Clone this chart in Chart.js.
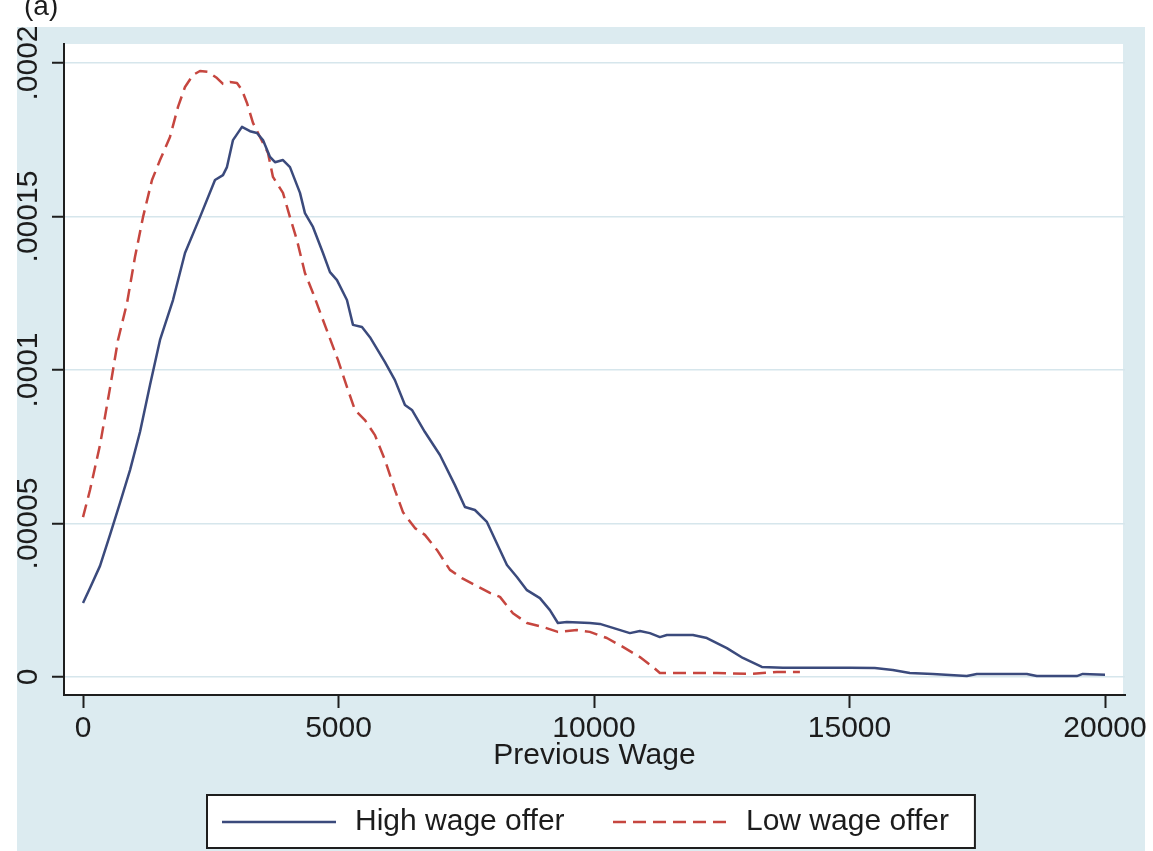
<!DOCTYPE html>
<html>
<head>
<meta charset="utf-8">
<script src="https://cdn.jsdelivr.net/npm/chart.js@4.4.1/dist/chart.umd.min.js"></script>
<style>
  html, body { margin: 0; padding: 0; background: #ffffff; overflow: hidden; }
  canvas { display: block; }
</style>
</head>
<body>
<canvas id="chart" width="1153" height="851"></canvas>
<script>
// Kernel density of previous wage, by wage-offer group
const wageHigh = [0, 137, 333, 528, 724, 920, 1115, 1311, 1507, 1761, 1996, 2289, 2583, 2739, 2817, 2935,
  3111, 3268, 3404, 3522, 3659, 3757, 3913, 4050, 4246, 4343, 4500, 4696, 4833, 4970, 5165, 5283,
  5459, 5615, 5909, 6104, 6300, 6437, 6691, 6985, 7278, 7474, 7669, 7904, 8159, 8296, 8491, 8687,
  8941, 9137, 9293, 9469, 9919, 10115, 10370, 10702, 10898, 11093, 11289, 11426, 11935, 12209, 12600,
  12913, 13285, 13696, 15006, 15495, 15847, 16180, 16630, 17295, 17491, 18470, 18665, 19448, 19565, 20000];
const densHigh = [2.41e-5, 2.90e-5, 3.62e-5, 4.63e-5, 5.67e-5, 6.74e-5, 7.98e-5, 9.51e-5, 1.098e-4, 1.228e-4,
  1.381e-4, 1.498e-4, 1.619e-4, 1.635e-4, 1.661e-4, 1.749e-4, 1.792e-4, 1.778e-4, 1.772e-4, 1.749e-4,
  1.694e-4, 1.677e-4, 1.684e-4, 1.661e-4, 1.577e-4, 1.511e-4, 1.466e-4, 1.381e-4, 1.319e-4, 1.293e-4,
  1.228e-4, 1.147e-4, 1.140e-4, 1.107e-4, 1.026e-4, 9.67e-5, 8.86e-5, 8.70e-5, 7.98e-5, 7.23e-5,
  6.25e-5, 5.54e-5, 5.44e-5, 5.05e-5, 4.14e-5, 3.65e-5, 3.26e-5, 2.83e-5, 2.57e-5, 2.18e-5,
  1.76e-5, 1.79e-5, 1.76e-5, 1.73e-5, 1.60e-5, 1.43e-5, 1.50e-5, 1.43e-5, 1.30e-5, 1.37e-5,
  1.37e-5, 1.27e-5, 9.4e-6, 6.2e-6, 3.3e-6, 3.0e-6, 3.0e-6, 2.9e-6, 2.3e-6, 1.3e-6,
  1.0e-6, 3e-7, 1.0e-6, 1.0e-6, 3e-7, 3e-7, 1.0e-6, 7e-7];

const wageLow = [0, 137, 333, 528, 685, 861, 1017, 1174, 1350, 1507, 1702, 1859, 1996, 2152, 2289, 2446,
  2622, 2739, 2876, 3013, 3111, 3209, 3326, 3463, 3620, 3717, 3913, 4050, 4187, 4343, 4500, 4696,
  4793, 4989, 5185, 5322, 5517, 5713, 5909, 6104, 6261, 6496, 6691, 6926, 7180, 7415, 7669, 7963,
  8159, 8413, 8687, 9000, 9293, 9665, 9919, 10252, 10565, 10898, 11152, 11289, 11739, 12404, 13050,
  13578, 14029];
const densLow = [5.21e-5, 6.09e-5, 7.56e-5, 9.41e-5, 1.098e-4, 1.218e-4, 1.368e-4, 1.498e-4, 1.619e-4, 1.684e-4,
  1.759e-4, 1.857e-4, 1.922e-4, 1.961e-4, 1.974e-4, 1.971e-4, 1.951e-4, 1.932e-4, 1.938e-4, 1.935e-4,
  1.912e-4, 1.870e-4, 1.805e-4, 1.759e-4, 1.707e-4, 1.629e-4, 1.577e-4, 1.498e-4, 1.423e-4, 1.316e-4,
  1.251e-4, 1.163e-4, 1.120e-4, 1.033e-4, 9.35e-5, 8.70e-5, 8.37e-5, 7.88e-5, 7.07e-5, 6.09e-5,
  5.37e-5, 4.85e-5, 4.63e-5, 4.14e-5, 3.49e-5, 3.22e-5, 3.00e-5, 2.74e-5, 2.61e-5, 2.08e-5,
  1.76e-5, 1.63e-5, 1.47e-5, 1.53e-5, 1.47e-5, 1.27e-5, 9.8e-6, 6.5e-6, 3.3e-6, 1.3e-6,
  1.3e-6, 1.3e-6, 1.0e-6, 1.6e-6, 1.6e-6];

const seriesNames = ['High wage offer', 'Low wage offer'];
const xTickValues = [0, 5000, 10000, 15000, 20000];
const yTickValues = [0, 0.00005, 0.0001, 0.00015, 0.0002];
const yTickLabels = ['0', '.00005', '.0001', '.00015', '.0002'];
const xAxisTitle = 'Previous Wage';
const panelTag = '(a)';

const FONT = '"Liberation Sans", Arial, Helvetica, sans-serif';
const TEXT = '#1c1c1c';
const NAVY = '#3b4a7c';
const RED = '#c6463f';
const FRAME_BG = '#dcebf0';
const GRID = '#d6e6ec';

const toPoints = (xs, ys) => xs.map((x, i) => ({ x: x, y: ys[i] }));

// Graph background: white page, bluish frame, white plot region
const backdrop = {
  id: 'backdrop',
  beforeDraw(chart) {
    const { ctx, chartArea: a } = chart;
    ctx.save();
    ctx.fillStyle = '#ffffff';
    ctx.fillRect(0, 0, chart.width, chart.height);
    ctx.fillStyle = FRAME_BG;
    ctx.fillRect(17, 27, 1128, chart.height - 27);
    ctx.fillStyle = '#ffffff';
    ctx.fillRect(a.left, a.top, a.right - a.left - 2, a.bottom - a.top);
    ctx.restore();
  }
};

// Vertical value labels on the y axis, plus legend box and panel tag
const annotations = {
  id: 'annotations',
  afterDraw(chart) {
    const { ctx } = chart;
    const yScale = chart.scales.y;
    ctx.save();
    ctx.fillStyle = TEXT;
    ctx.font = '30px ' + FONT;
    ctx.textAlign = 'center';
    ctx.textBaseline = 'middle';
    yTickValues.forEach((v, i) => {
      const py = yScale.getPixelForValue(v);
      ctx.save();
      ctx.translate(29, py);
      ctx.rotate(-Math.PI / 2);
      ctx.fillText(yTickLabels[i], 0, 0);
      ctx.restore();
    });

    // panel tag, partly above the top edge
    ctx.textAlign = 'left';
    ctx.textBaseline = 'alphabetic';
    ctx.font = '28px ' + FONT;
    ctx.fillText(panelTag, 24, 15);

    // legend
    const ds = chart.data.datasets;
    const boxL = 207, boxT = 795, boxB = 848, midY = 822;
    ctx.font = '30px ' + FONT;
    const w2 = ctx.measureText(ds[1].label).width;
    const lowTextX = 746;
    const boxR = lowTextX + w2 + 26;
    ctx.fillStyle = '#ffffff';
    ctx.fillRect(boxL, boxT, boxR - boxL, boxB - boxT);
    ctx.strokeStyle = '#1e1e1e';
    ctx.lineWidth = 2;
    ctx.strokeRect(boxL, boxT, boxR - boxL, boxB - boxT);

    ctx.lineWidth = 2.5;
    ctx.strokeStyle = ds[0].borderColor;
    ctx.setLineDash([]);
    ctx.beginPath(); ctx.moveTo(222, midY); ctx.lineTo(336, midY); ctx.stroke();
    ctx.strokeStyle = ds[1].borderColor;
    ctx.setLineDash(ds[1].borderDash);
    ctx.beginPath(); ctx.moveTo(613, midY); ctx.lineTo(727, midY); ctx.stroke();
    ctx.setLineDash([]);

    ctx.fillStyle = TEXT;
    ctx.textBaseline = 'middle';
    ctx.fillText(ds[0].label, 355, midY);
    ctx.fillText(ds[1].label, lowTextX, midY);
    ctx.restore();
  }
};

new Chart(document.getElementById('chart'), {
  type: 'line',
  data: {
    datasets: [
      {
        label: seriesNames[0],
        data: toPoints(wageHigh, densHigh),
        borderColor: NAVY,
        borderWidth: 2.5,
        borderJoinStyle: 'round',
        pointRadius: 0,
        tension: 0,
        fill: false
      },
      {
        label: seriesNames[1],
        data: toPoints(wageLow, densLow),
        borderColor: RED,
        borderWidth: 2.5,
        borderDash: [13, 7],
        borderJoinStyle: 'round',
        pointRadius: 0,
        tension: 0,
        fill: false
      }
    ]
  },
  options: {
    responsive: false,
    animation: false,
    devicePixelRatio: 1,
    layout: { padding: { left: 0, top: 44, right: 28, bottom: 0 } },
    plugins: {
      legend: { display: false },
      tooltip: { enabled: false },
      title: { display: false }
    },
    scales: {
      x: {
        type: 'linear',
        min: -372,
        max: 20391,
        afterBuildTicks(scale) { scale.ticks = xTickValues.map(v => ({ value: v })); },
        afterFit(scale) { scale.height = 156; scale.paddingLeft = 0; scale.paddingRight = 0; },
        grid: {
          drawOnChartArea: false,
          drawTicks: true,
          tickLength: 13,
          tickColor: '#1e1e1e',
          tickWidth: 2,
          color: 'rgba(0,0,0,0)'
        },
        border: { display: true, color: '#1e1e1e', width: 2 },
        ticks: {
          color: TEXT,
          font: { family: FONT, size: 30, lineHeight: 1 },
          padding: 6,
          maxRotation: 0,
          minRotation: 0,
          callback: v => String(v)
        },
        title: {
          display: true,
          text: xAxisTitle,
          color: TEXT,
          font: { family: FONT, size: 30, lineHeight: 1 },
          padding: { top: 0, bottom: 80 }
        }
      },
      y: {
        type: 'linear',
        min: -0.00000586,
        max: 0.0002062,
        afterBuildTicks(scale) { scale.ticks = yTickValues.map(v => ({ value: v })); },
        afterFit(scale) { scale.width = 64; scale.paddingTop = 0; scale.paddingBottom = 0; },
        grid: {
          drawOnChartArea: true,
          drawTicks: true,
          tickLength: 12,
          color: GRID,
          lineWidth: 1.5,
          tickColor: '#1e1e1e',
          tickWidth: 2
        },
        border: { display: true, color: '#1e1e1e', width: 2 },
        ticks: { display: false }
      }
    }
  },
  plugins: [backdrop, annotations]
});
</script>
</body>
</html>
